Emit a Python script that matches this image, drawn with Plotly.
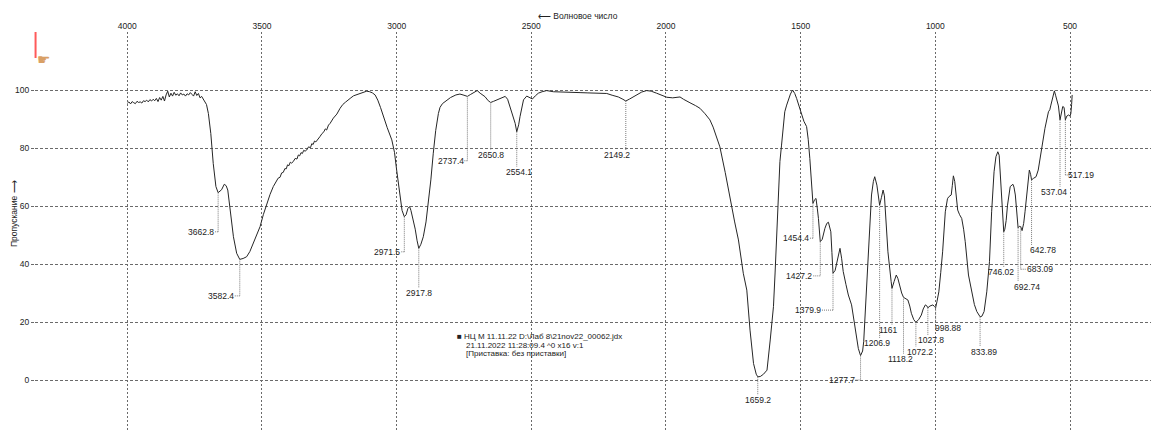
import numpy as np
import plotly.graph_objects as go

# ---------------- data ----------------
wavenumber = [
    4000, 3994, 3988, 3982, 3976, 3970, 3964, 3958, 3952, 3946, 3940, 3934, 3928, 3922, 3916, 3910,
    3904, 3898, 3892, 3886, 3880, 3874, 3868, 3862, 3856, 3850, 3844, 3838, 3832, 3826, 3820, 3814,
    3808, 3802, 3796, 3790, 3784, 3778, 3772, 3766, 3760, 3754, 3748, 3742, 3736, 3730, 3724, 3718,
    3712, 3706, 3699, 3690, 3681, 3671, 3662.8, 3657, 3650, 3640, 3633, 3627, 3619, 3606, 3594,
    3582.4, 3570, 3557, 3545, 3532, 3520, 3507, 3495, 3482, 3470, 3458, 3445, 3440, 3433, 3427, 3421,
    3415, 3410, 3405, 3400, 3395, 3390, 3384, 3377, 3370, 3365, 3360, 3355, 3350, 3345, 3340, 3334,
    3327, 3320, 3315, 3310, 3305, 3300, 3292, 3285, 3277, 3270, 3265, 3260, 3253, 3247,
    3235, 3222, 3210, 3200, 3190, 3180, 3170, 3160, 3150, 3140, 3130, 3120, 3111, 3100, 3090, 3080,
    3070, 3060, 3049, 3035, 3018, 3008, 3000, 2993, 2987, 2980, 2971.5, 2965, 2958, 2952, 2947,
    2938, 2931, 2924, 2917.8, 2910, 2901, 2891, 2882, 2873, 2864, 2855, 2845, 2839, 2830, 2820,
    2814, 2800, 2780, 2765, 2750, 2737.4, 2725, 2710, 2701, 2690, 2672, 2660, 2650.8, 2640, 2622,
    2605, 2597, 2588, 2579, 2570, 2560, 2554.1, 2547, 2542, 2535, 2529, 2517, 2505, 2496, 2485,
    2474, 2460, 2443, 2418, 2400, 2370, 2340, 2319, 2290, 2260, 2235, 2220, 2200, 2177, 2160,
    2149.2, 2135, 2120, 2109, 2090, 2072, 2055, 2035, 2015, 1997, 1975, 1960, 1948, 1935, 1920,
    1911, 1890, 1874, 1855, 1837, 1825, 1812, 1800, 1780, 1762, 1745, 1731, 1713, 1700, 1688,
    1675, 1665, 1659.2, 1650, 1638, 1625, 1613, 1601, 1595, 1588, 1582, 1577, 1571, 1565, 1559,
    1552, 1546, 1538, 1530, 1522, 1515, 1505, 1496, 1488, 1478, 1472, 1466, 1460, 1454.4, 1448,
    1443, 1438, 1434, 1427.2, 1420, 1410, 1403, 1397, 1392, 1388, 1384, 1379.9, 1372, 1366, 1360,
    1354, 1348, 1342, 1332, 1323, 1311, 1298, 1286, 1277.7, 1270, 1266, 1261, 1256, 1246, 1237,
    1230, 1225, 1217, 1206.9, 1200, 1194, 1189, 1185, 1176, 1164, 1161, 1153, 1145, 1139, 1133,
    1125, 1118.2, 1110, 1102, 1095, 1089, 1080, 1072.2, 1062, 1052, 1045, 1037, 1032, 1027.8, 1020,
    1009, 1004, 998.88, 994, 987, 980, 973, 963, 955, 950, 941, 937, 933, 928, 923, 917, 910, 902,
    895, 889, 877, 864, 855, 846, 838, 833.89, 827, 819, 809, 799, 791, 782, 775, 768, 763, 757,
    750, 746.02, 742, 737, 732, 722, 712, 708, 703, 698, 694, 692.74, 688, 683.09, 678, 672, 667,
    658, 651, 646, 642.78, 636, 626, 618, 605, 593, 580, 575, 571, 564, 558, 553, 549, 543, 537.04,
    531, 527, 522, 517.19, 512, 505, 500, 497, 494, 492,
]
transmittance = [
    95.4, 95.9, 95.2, 96.0, 95.6, 95.3, 96.1, 95.7, 95.9, 95.5, 96.3, 96.0, 96.5, 95.9, 96.7, 96.2,
    96.8, 96.3, 97.1, 96.0, 97.4, 96.5, 97.8, 96.2, 98.3, 99.6, 97.6, 98.9, 97.9, 99.2, 98.2, 98.7,
    98.0, 99.0, 98.3, 98.6, 97.9, 98.7, 98.3, 99.1, 98.5, 97.9, 99.4, 98.1, 98.8, 97.3, 97.8, 96.8,
    96.2, 95.0, 91.9, 85.0, 74.7, 66.7, 64.6, 65.0, 65.6, 67.5, 67.0, 65.5, 59.8, 49.4, 43.7,
    41.6, 41.9, 42.5, 44.3, 47.1, 50.0, 52.9, 57.0, 60.9, 64.0, 66.7, 68.5, 69.6, 69.9, 71.4, 71.6,
    72.9, 72.8, 74.2, 73.9, 75.1, 74.8, 75.3, 76.4, 76.2, 77.6, 77.3, 78.4, 78.1, 79.2, 78.9, 79.3,
    80.4, 80.1, 81.5, 81.2, 82.4, 82.1, 83.3, 83.9, 85.0, 85.6, 86.6, 86.2, 87.9, 88.5,
    90.3, 91.7, 93.7, 95.0, 95.8, 96.7, 97.3, 98.0, 98.3, 98.5, 98.9, 99.3, 99.6, 99.4, 99.0, 98.3,
    96.5, 94.0, 90.8, 87.0, 82.8, 78.5, 72.4, 67.0, 62.0, 58.5, 56.3, 57.0, 59.2, 59.8, 58.5,
    55.0, 52.0, 48.0, 45.4, 46.8, 49.4, 54.5, 60.9, 69.0, 78.2, 86.0, 91.9, 94.0, 95.3, 96.0,
    96.5, 97.4, 98.3, 98.6, 98.2, 97.8, 98.5, 99.4, 99.8, 98.9, 97.7, 96.3, 95.7, 96.1, 96.8,
    97.6, 97.8, 96.8, 94.3, 91.5, 88.5, 85.6, 88.0, 90.8, 94.5, 96.6, 97.9, 97.3, 96.9, 98.0,
    98.9, 99.4, 99.8, 99.4, 99.3, 99.2, 99.1, 99.1, 99.0, 98.9, 98.8, 98.8, 98.2, 97.6, 96.8,
    96.2, 96.9, 97.7, 98.3, 99.3, 99.8, 99.6, 98.9, 98.1, 97.5, 97.3, 97.4, 97.6, 96.8, 95.9,
    95.6, 94.6, 93.7, 91.8, 89.7, 87.2, 83.9, 80.4, 71.5, 62.1, 54.5, 48.3, 36.8, 31.0, 17.2,
    5.7, 2.0, 1.1, 1.2, 2.0, 3.4, 13.8, 25.3, 36.9, 52.0, 65.5, 75.3, 81.0, 87.0, 92.5,
    94.8, 96.6, 98.6, 100.0, 98.8, 97.1, 94.0, 90.8, 89.2, 87.4, 83.0, 76.4, 68.0, 60.9, 62.2,
    62.6, 59.0, 55.7, 47.7, 48.5, 52.3, 54.0, 54.4, 53.0, 51.1, 44.0, 36.8, 37.8, 40.2, 42.5,
    45.4, 42.0, 37.4, 33.0, 29.3, 25.9, 17.8, 10.9, 8.4, 10.0, 13.2, 22.0, 32.8, 50.0, 63.8,
    68.5, 70.1, 67.2, 60.3, 63.0, 65.5, 63.5, 58.0, 44.2, 33.9, 31.6, 34.0, 36.2, 35.0, 32.8,
    30.0, 28.5, 28.0, 27.6, 25.5, 23.0, 20.8, 19.9, 20.8, 22.4, 24.5, 25.9, 25.6, 24.9, 25.5,
    25.9, 25.4, 24.9, 27.0, 30.4, 37.0, 44.2, 58.0, 62.5, 63.2, 63.8, 67.0, 70.4, 68.5, 64.9, 58.6, 57.0, 55.7,
    52.0, 47.7, 36.2, 29.3, 26.0, 23.6, 22.3, 21.8, 22.0, 23.6, 30.4, 40.8, 58.0, 71.8, 77.0, 78.7, 77.5, 67.2,
    55.7, 51.1, 52.0, 55.0, 60.3, 66.7, 67.5, 66.5, 63.8, 58.0, 53.4, 52.5, 53.0, 52.9, 51.5, 54.0, 58.0,
    67.2, 72.4, 70.8, 69.0, 69.5, 70.1, 72.4, 79.9, 86.8, 92.5, 93.2, 94.8, 97.1, 99.7, 98.0, 96.6, 94.5, 89.7,
    93.0, 94.3, 94.0, 89.7, 91.0, 91.4, 91.0, 91.8, 95.0, 98.3,
]

peak_wn = [3662.8, 3582.4, 2971.5, 2917.8, 2737.4, 2650.8, 2554.1, 2149.2, 1659.2, 1454.4,
           1427.2, 1379.9, 1277.7, 1206.9, 1161, 1118.2, 1072.2, 1027.8, 998.88, 833.89,
           746.02, 692.74, 683.09, 642.78, 537.04, 517.19]
peak_text = ["3662.8", "3582.4", "2971.5", "2917.8", "2737.4", "2650.8", "2554.1", "2149.2",
             "1659.2", "1454.4", "1427.2", "1379.9", "1277.7", "1206.9", "1161", "1118.2",
             "1072.2", "1027.8", "998.88", "833.89", "746.02", "692.74", "683.09", "642.78",
             "537.04", "517.19"]

x_ticks = [4000, 3500, 3000, 2500, 2000, 1500, 1000, 500]
y_ticks = [0, 20, 40, 60, 80, 100]

x_title = "⟵ Волновое число"
y_title = "Пропускание ⟶"
info_lines = ["■ НЦ М 11.11.22 D:\\Лаб 8\\21nov22_00062.jdx",
              "21.11.2022 11:28:09.4 ^0 x16 v:1",
              "[Приставка: без приставки]"]

# ---------------- label layout (leader end, placement mode, pixel offset) ----------------
label_end = [51.1, 29.0, 44.2, 31.7, 75.6, 79.3, 73.6, 79.3, -5.2, 48.9,
             35.9, 24.1, 0.0, 14.5, 19.0, 9.0, 11.5, 15.5, 19.7, 11.5,
             39.0, 33.9, 38.2, 46.6, 66.7, 70.7]
label_mode = ["L", "L", "L", "B", "L", "B", "B", "B", "B", "L",
              "L", "L", "L", "B", "B", "B", "B", "B", "B", "B",
              "B", "B", "R", "B", "B", "R"]
label_dx = [4, 6, 4, 0, 3, 0, 2, -9, 0, 4,
            8, 12, 6, -3, -3, -3, 4, 3, 12, 4,
            -3, 9, 6, 11, -6, 3]

# ---------------- figure ----------------
W, H = 1151, 432
ML, MT = 35, 32
x_range = [4342.7, 199.3]
y_range = [-17.93, 120]
px_per_wn = (W - ML) / (x_range[0] - x_range[1])
FONT = "Liberation Sans, Arial, sans-serif"

wn_arr = np.array(wavenumber, dtype=float)
t_arr = np.array(transmittance, dtype=float)
order = np.argsort(wn_arr)
peak_T = np.interp(peak_wn, wn_arr[order], t_arr[order])

fig = go.Figure()
fig.add_trace(go.Scatter(x=wavenumber, y=transmittance, mode="lines",
                         line=dict(color="#262626", width=1), hoverinfo="skip"))

shapes = []
annotations = []
leader_style = dict(color="#7a7a7a", width=1, dash="1px,1px")
for wn, tc, te, txt, mode, dx in zip(peak_wn, peak_T, label_end, peak_text, label_mode, label_dx):
    shapes.append(dict(type="line", xref="x", yref="y", x0=wn, x1=wn, y0=tc, y1=te,
                       line=leader_style, layer="above"))
    ann = dict(x=wn, y=te, xref="x", yref="y", text=txt, showarrow=False,
               font=dict(family=FONT, size=8.5, color="#222"), borderpad=0, borderwidth=0)
    if mode == "L":
        shapes.append(dict(type="line", xref="x", yref="y", x0=wn, x1=wn + dx / px_per_wn,
                           y0=te, y1=te, line=leader_style))
        ann.update(xanchor="right", yanchor="middle", xshift=-dx)
    elif mode == "R":
        shapes.append(dict(type="line", xref="x", yref="y", x0=wn, x1=wn - dx / px_per_wn,
                           y0=te, y1=te, line=leader_style))
        ann.update(xanchor="left", yanchor="middle", xshift=dx)
    else:
        ann.update(xanchor="center", yanchor="middle", xshift=dx, yshift=-5)
    annotations.append(ann)

# axis titles
annotations.append(dict(x=2483, y=1, xref="x", yref="paper", yshift=16, text=x_title,
                        showarrow=False, xanchor="left", yanchor="middle",
                        font=dict(family=FONT, size=8.5, color="#222")))
annotations.append(dict(x=0, y=57.2, xref="paper", yref="y", xshift=-21, text=y_title,
                        textangle=-90, showarrow=False, xanchor="center", yanchor="middle",
                        font=dict(family=FONT, size=8.5, color="#222")))
# info block
info_y = [0.24, 0.2175, 0.19625]
info_x = [0.3772, 0.3853, 0.3853]
for tx, xx, yy in zip(info_lines, info_x, info_y):
    annotations.append(dict(x=xx, y=yy, xref="paper", yref="paper", text=tx, showarrow=False,
                            xanchor="left", yanchor="middle", borderpad=0,
                            font=dict(family=FONT, size=8, color="#222")))
# cursor marker
shapes.append(dict(type="line", xref="paper", yref="paper", x0=0.0005, x1=0.0005,
                   y0=1.0, y1=0.935, line=dict(color="#ff5a5a", width=2)))
annotations.append(dict(x=0.0075, y=0.93, xref="paper", yref="paper", text="☛",
                        showarrow=False, xanchor="center", yanchor="middle",
                        font=dict(family="DejaVu Sans", size=15, color="#d9a066")))

fig.update_layout(
    width=W, height=H,
    margin=dict(l=ML, r=0, t=MT, b=0),
    paper_bgcolor="white", plot_bgcolor="white",
    showlegend=False,
    font=dict(family=FONT, size=8.5, color="#222"),
    shapes=shapes, annotations=annotations,
)
fig.update_xaxes(range=x_range, autorange=False, side="top", tickvals=x_ticks,
                 ticktext=[str(v) for v in x_ticks], ticks="", showgrid=True,
                 gridcolor="#6a6a6a", gridwidth=1, griddash="2px,2px",
                 zeroline=False, showline=False, tickfont=dict(size=8.5))
fig.update_yaxes(range=y_range, autorange=False, tickvals=y_ticks,
                 ticktext=[str(v) for v in y_ticks], ticks="outside", ticklen=3,
                 tickcolor="#6a6a6a", showgrid=True, gridcolor="#6a6a6a", gridwidth=1,
                 griddash="3px,2px", zeroline=False, showline=False, tickfont=dict(size=8.5))

fig.write_html("out.html")
